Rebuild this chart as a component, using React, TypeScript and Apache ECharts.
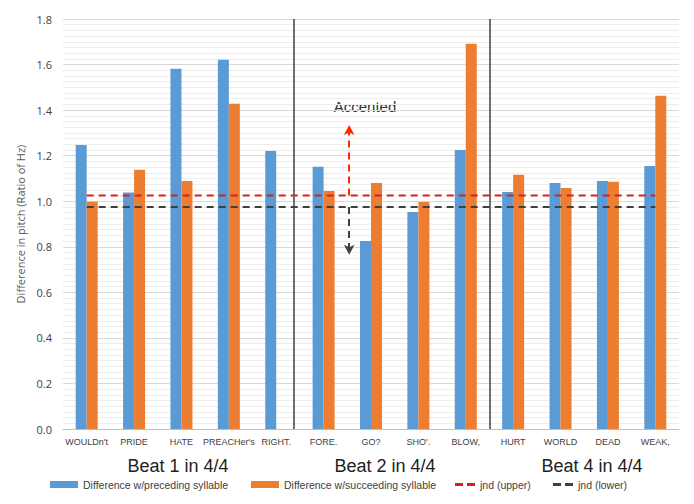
import React, { useEffect, useRef } from "react";
import * as echarts from "echarts";

const categories = ["WOULDn't", "PRIDE", "HATE", "PREACHer's", "RIGHT.", "FORE.", "GO?", "SHO'.", "BLOW,", "HURT", "WORLD", "DEAD", "WEAK,"];
const preceding = [1.247, 1.038, 1.582, 1.621, 1.221, 1.151, 0.825, 0.953, 1.225, 1.041, 1.080, 1.089, 1.155];
const succeeding: (number | null)[] = [0.998, 1.138, 1.089, 1.428, null, 1.045, 1.080, 0.997, 1.691, 1.116, 1.058, 1.085, 1.463];
const jndUpper = categories.map(() => 1.025);
const jndLower = categories.map(() => 0.975);
const yTicks = [0, 0.2, 0.4, 0.6, 0.8, 1.0, 1.2, 1.4, 1.6, 1.8];
const separators = [4.88, 9.0];
const beatLabels = ["Beat 1 in 4/4", "Beat 2 in 4/4", "Beat 4 in 4/4"];
const seriesNames = [
  "Difference w/preceding syllable",
  "Difference w/succeeding syllable",
  "jnd (upper)",
  "jnd (lower)",
];
const arrowX = 6.04;
const arrowUp = [1.025, 1.335];
const arrowDown = [0.975, 0.765];

export default function App() {
  const ref = useRef<HTMLDivElement>(null);
  useEffect(() => {
    if (!ref.current) return;
    const chart = echarts.init(ref.current, undefined, { renderer: "svg" });
    const font = "'Liberation Sans', Arial, sans-serif";
    const dashIcon = "path://M0,0h8v3h-8z M12,0h8v3h-8z";
    const legendLeft = [50, 251, 455, 553];
    chart.setOption({
      animation: false,
      backgroundColor: "#ffffff",
      grid: { left: 63, right: 15, top: 19, bottom: 75, containLabel: false },
      xAxis: [
        {
          type: "category",
          data: categories,
          axisLine: { lineStyle: { color: "#BFBFBF", width: 1 } },
          axisTick: { show: false },
          axisLabel: { color: "#404040", fontSize: 9, fontFamily: font, margin: 8, interval: 0 },
        },
        { type: "value", min: 0, max: 13, show: false, position: "bottom" },
      ],
      yAxis: {
        type: "value",
        min: yTicks[0],
        max: yTicks[yTicks.length - 1],
        interval: 0.2,
        name: "Difference in pitch (Ratio of Hz)",
        nameLocation: "middle",
        nameGap: 31,
        nameTextStyle: { color: "#595959", fontSize: 11, fontFamily: "'Open Sans', sans-serif" },
        axisLine: { show: false },
        axisTick: { show: false },
        axisLabel: {
          color: "#404040",
          fontSize: 11,
          fontFamily: "'Open Sans', sans-serif",
          margin: 11,
          formatter: (v: number) => v.toFixed(1),
        },
        splitLine: { lineStyle: { color: "#D9D9D9", width: 1 } },
        minorTick: { show: false, splitNumber: 8 },
        minorSplitLine: { show: true, lineStyle: { color: "#EDEDED", width: 1 } },
      },
      legend: seriesNames.map((n, i) => ({
        data: [i < 2 ? { name: n, icon: "rect" } : { name: n, icon: dashIcon }],
        left: legendLeft[i],
        top: 479,
        padding: 0,
        itemWidth: i < 2 ? 28 : 20,
        itemHeight: i < 2 ? 7 : 3,
        itemGap: 4,
        textStyle: { color: "#404040", fontSize: 10.5, fontFamily: font, padding: [0, 0, 0, 0] },
      })),
      graphic: [
        ...beatLabels.map((t, i) => ({
          type: "text",
          x: [178, 385, 592][i],
          y: 466,
          style: { text: t, fontSize: 18, fontFamily: font, fill: "#222222", align: "center", verticalAlign: "middle" },
        })),
        {
          type: "text",
          x: 365,
          y: 106,
          style: { text: "Accented", fontSize: 15, fontFamily: font, fill: "#333333", align: "center", verticalAlign: "middle" },
        },
      ],
      series: [
        {
          name: seriesNames[0],
          type: "bar",
          data: preceding,
          barWidth: 11,
          barGap: "0%",
          itemStyle: { color: "#5B9BD5" },
        },
        {
          name: seriesNames[1],
          type: "bar",
          data: succeeding,
          barWidth: 11,
          barGap: "0%",
          itemStyle: { color: "#ED7D31" },
        },
        {
          name: seriesNames[2],
          type: "line",
          data: jndUpper,
          symbol: "none",
          itemStyle: { color: "#D9201E" },
          lineStyle: { color: "#D9201E", width: 2, type: [7, 5] },
          z: 5,
        },
        {
          name: seriesNames[3],
          type: "line",
          data: jndLower,
          symbol: "none",
          itemStyle: { color: "#404040" },
          lineStyle: { color: "#404040", width: 2, type: [7, 5] },
          z: 5,
        },
        {
          name: "annotations",
          type: "line",
          xAxisIndex: 1,
          data: [],
          symbol: "none",
          markLine: {
            silent: true,
            animation: false,
            symbol: ["none", "none"],
            label: { show: false },
            data: [
              ...separators.map((s) => ({
                xAxis: s,
                lineStyle: { color: "#404040", width: 1.5, type: "solid" },
              })),
              [
                { coord: [arrowX, arrowUp[0]], symbol: "none", lineStyle: { color: "#FF2A00", width: 2, type: [7, 5] } },
                { coord: [arrowX, arrowUp[1]], symbol: "arrow", symbolSize: [8, 10] },
              ],
              [
                { coord: [arrowX, arrowDown[0]], symbol: "none", lineStyle: { color: "#404040", width: 2, type: [7, 5] } },
                { coord: [arrowX, arrowDown[1]], symbol: "arrow", symbolSize: [8, 10] },
              ],
            ],
          },
        },
      ],
    });
    return () => chart.dispose();
  }, []);
  return <div ref={ref} style={{ position: "fixed", left: 0, top: 0, width: 694, height: 504 }} />;
}
